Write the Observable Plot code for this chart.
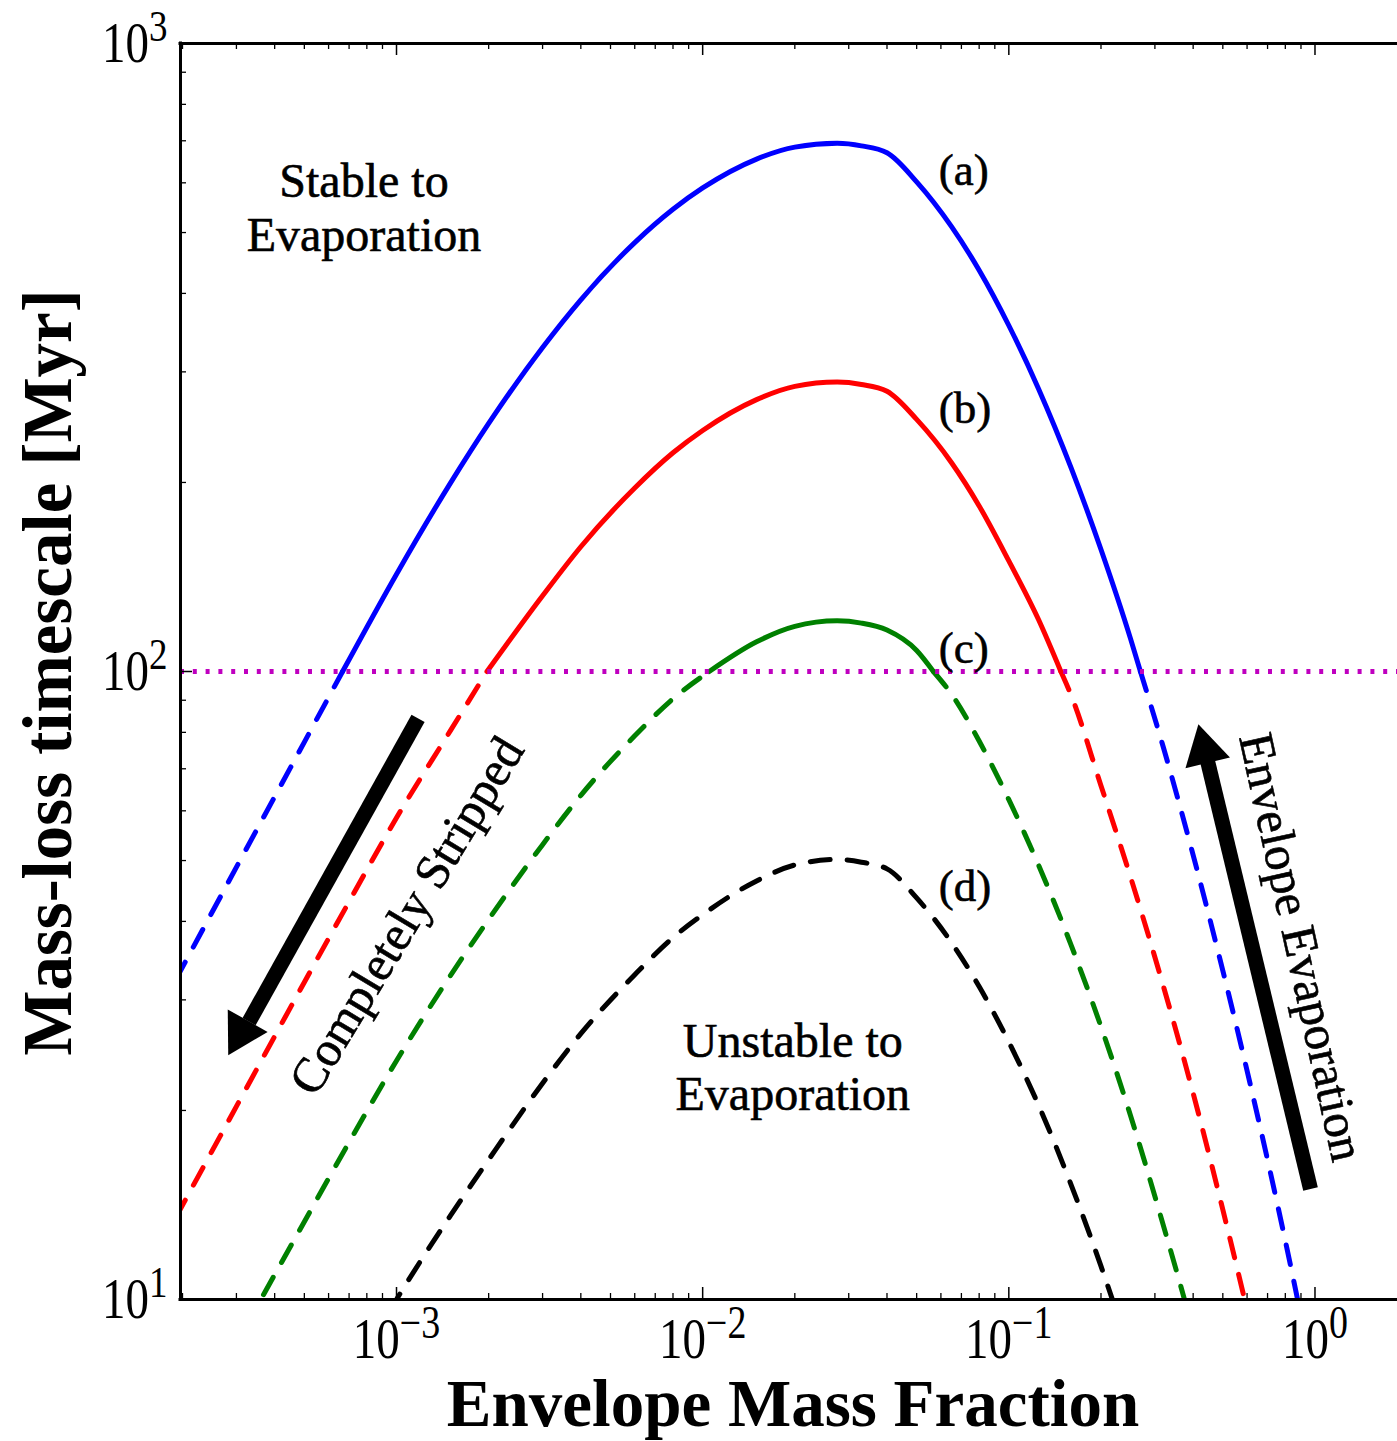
<!DOCTYPE html>
<html>
<head>
<meta charset="utf-8">
<script src="https://cdn.jsdelivr.net/npm/d3@7"></script>
<script src="https://cdn.jsdelivr.net/npm/@observablehq/plot@0.6"></script>
<style>
  html, body { margin: 0; padding: 0; background: #ffffff; overflow: hidden; }
  #chart svg { display: block; }
</style>
</head>
<body>
<div id="chart"></div>
<script>
// ---------------- data ----------------
const envelopeFraction = [1.9e-4, 3e-4, 5e-4, 7e-4, 1e-3, 1.5e-3, 2e-3, 3e-3, 4e-3, 6e-3, 8e-3, 0.01, 0.015, 0.02, 0.0275, 0.033, 0.04, 0.05, 0.065, 0.08, 0.1, 0.125, 0.16, 0.2, 0.25, 0.32, 0.4, 0.5, 0.63, 0.8, 1.0, 1.3, 1.9];
const timescaleA = [32.3, 48.8, 77.2, 104.5, 142.9, 199.5, 248.3, 328.1, 390.8, 481.9, 544.5, 588.8, 654.6, 683.9, 693.4, 687.1, 669.9, 602.1, 510.9, 435.5, 355.6, 282.1, 210.6, 156.4, 112.6, 75.6, 51.0, 33.4, 20.9, 12.4, 7.3, 3.8, 1.4];
const timescaleB = [13.5, 20.3, 32.0, 43.0, 58.5, 80.5, 101.0, 132.0, 158.0, 196.0, 223.0, 242.0, 271.0, 284.5, 289.0, 286.5, 279.4, 252.0, 215.0, 183.5, 150.0, 121.0, 91.5, 65.8, 47.0, 31.5, 21.3, 13.9, 8.7, 5.2, 3.1, 1.6, 0.58];
const timescaleC = [5.6, 8.5, 13.3, 17.8, 24.0, 32.8, 40.3, 53.0, 63.5, 79.0, 90.5, 98.5, 111.5, 118.0, 120.4, 119.4, 116.4, 108.0, 92.0, 77.5, 62.5, 49.2, 36.6, 27.2, 19.6, 13.1, 8.9, 5.8, 3.6, 2.2, 1.28, 0.67, 0.24];
const timescaleD = [2.3, 3.5, 5.5, 7.4, 10.0, 13.6, 16.7, 22.1, 26.5, 32.9, 37.7, 41.0, 46.4, 49.2, 50.2, 49.7, 48.5, 43.6, 37.0, 31.5, 25.7, 20.4, 15.2, 11.3, 8.15, 5.5, 3.7, 2.4, 1.5, 0.9, 0.53, 0.28, 0.1];

const curveNames  = ["a", "b", "c", "d"];
const curveColors = ["#0000ff", "#ff0000", "#008000", "#000000"];
const curveSeries = [timescaleA, timescaleB, timescaleC, timescaleD];
const stabilityThreshold = 100;

const curveLabels  = ["(a)", "(b)", "(c)", "(d)"];
const curveLabelX  = [0.059, 0.059, 0.059, 0.059];
const curveLabelY  = [628, 262, 108.8, 45.5];

const regionText = ["Stable to\nEvaporation", "Unstable to\nEvaporation"];
const regionX    = [7.83e-4, 0.0197];
const regionY    = [468, 20.0];

const arrowText      = ["Completely Stripped", "Envelope Evaporation"];
const arrowTextX     = [1.082e-3, 0.901];
const arrowTextY     = [40.8, 36.4];
const arrowTextAngle = [-58.9, 77.6];

const arrowTailX  = [1.176e-3, 0.967];
const arrowTailY  = [84.2, 15.0];
const arrowBaseX  = [3.30e-4, 0.446];
const arrowBaseY  = [27.7, 71.9];
const arrowHeadX  = [3.11e-4, 0.436];
const arrowHeadY  = [26.65, 75.0];
const arrowHeadAngle = [209.4, 346.4];

const xDomain = [1.97e-4, 1.86];
const yDomain = [10, 1000];
const xMajor = [1e-3, 1e-2, 1e-1, 1];
const xTickLabels = ["10^\u22123", "10^\u22122", "10^\u22121", "10^0"];
const xMinor = [2e-4, 3e-4, 4e-4, 5e-4, 6e-4, 7e-4, 8e-4, 9e-4,
                2e-3, 3e-3, 4e-3, 5e-3, 6e-3, 7e-3, 8e-3, 9e-3,
                2e-2, 3e-2, 4e-2, 5e-2, 6e-2, 7e-2, 8e-2, 9e-2,
                0.2, 0.3, 0.4, 0.5, 0.6, 0.7, 0.8, 0.9];
const yMajor = [10, 100, 1000];
const yTickLabels = ["10^1", "10^2", "10^3"];
const yMinor = [20, 30, 40, 50, 60, 70, 80, 90, 200, 300, 400, 500, 600, 700, 800, 900];

const xTitle = "Envelope Mass Fraction";
const yTitle = "Mass-loss timescale [Myr]";

// ---------------- split each curve into stable (solid) / unstable (dashed) parts ----------------
function splitCurve(name, color, ys) {
  const T = stabilityThreshold;
  const pts = envelopeFraction.map((x, i) => ({x, y: ys[i]}));
  const kind = (p) => (p.y >= T ? "solid" : "dashed");
  const segs = [];
  let cur = [pts[0]];
  let curKind = kind(pts[0]);
  let skip = false;
  for (let i = 1; i < pts.length; i++) {
    const q = pts[i - 1], p = pts[i];
    skip = false;
    if (kind(p) !== curKind) {
      const t = (Math.log(T) - Math.log(q.y)) / (Math.log(p.y) - Math.log(q.y));
      const c = {x: Math.exp(Math.log(q.x) + t * (Math.log(p.x) - Math.log(q.x))), y: T};
      // avoid near-duplicate points next to the crossing (keeps the curve smooth)
      if (t < 0.15 && cur.length > 2) cur.pop();
      cur.push(c);
      segs.push({kind: curKind, pts: cur});
      cur = [c];
      curKind = kind(p);
      if (t > 0.85 && i < pts.length - 1) skip = true;
    }
    if (!skip) cur.push(p);
  }
  segs.push({kind: curKind, pts: cur});
  return segs.flatMap((s, j) => s.pts.map((d) => ({...d, z: name + j, color, kind: s.kind})));
}
const allRows = curveNames.flatMap((n, i) => splitCurve(n, curveColors[i], curveSeries[i]));
const solidRows = allRows.filter((d) => d.kind === "solid");
const dashedRows = allRows.filter((d) => d.kind === "dashed");

// ---------------- layout ----------------
const W = 1397, H = 1441;
const mT = 43, mB = 142, mL = 180, mR = 0;
const FH = H - mT - mB, FW = W - mL - mR;
const FONT = "'Liberation Serif', 'Times New Roman', serif";
const idx2 = [0, 1];

const chart = Plot.plot({
  width: W, height: H,
  marginTop: mT, marginBottom: mB, marginLeft: mL, marginRight: mR,
  style: {fontFamily: FONT, background: "#ffffff", color: "#000000"},
  x: {type: "log", domain: xDomain},
  y: {type: "log", domain: yDomain},
  color: {type: "identity"},
  marks: [
    Plot.line(dashedRows, {x: "x", y: "y", z: "z", stroke: "color", strokeWidth: 5, strokeDasharray: "20,17", curve: "monotone-x", clip: true}),
    Plot.line(solidRows, {x: "x", y: "y", z: "z", stroke: "color", strokeWidth: 5, curve: "monotone-x", clip: true}),
    Plot.ruleY([stabilityThreshold], {stroke: "#bf00bf", strokeWidth: 5, strokeDasharray: "4,8.8"}),

    // arrows
    Plot.link(idx2, {x1: (i) => arrowTailX[i], y1: (i) => arrowTailY[i], x2: (i) => arrowBaseX[i], y2: (i) => arrowBaseY[i], stroke: "#000", strokeWidth: 15}),
    Plot.dot(idx2, {x: (i) => arrowHeadX[i], y: (i) => arrowHeadY[i], symbol: "triangle", r: 17, fill: "#000", rotate: (i) => arrowHeadAngle[i]}),

    // annotations
    Plot.text(curveLabels, {x: (d, i) => curveLabelX[i], y: (d, i) => curveLabelY[i], text: (d) => d, textAnchor: "start", fontSize: 45, fill: "#000", stroke: "#000", strokeWidth: 0.6}),
    Plot.text(regionText, {x: (d, i) => regionX[i], y: (d, i) => regionY[i], text: (d) => d, lineAnchor: "bottom", lineHeight: 1.11, fontSize: 48, fill: "#000", stroke: "#000", strokeWidth: 0.6}),
    Plot.text(arrowText, {x: (d, i) => arrowTextX[i], y: (d, i) => arrowTextY[i], text: (d) => d, rotate: (d, i) => arrowTextAngle[i], fontSize: 49, fill: "#000", stroke: "#000", strokeWidth: 0.6}),

    // axis ticks (inward), bottom / top / left
    Plot.tickX(xMajor, {insetTop: FH - 12, strokeWidth: 1.5}),
    Plot.tickX(xMinor, {insetTop: FH - 6, strokeWidth: 1.3}),
    Plot.tickX(xMajor, {insetBottom: FH - 12, strokeWidth: 1.5}),
    Plot.tickX(xMinor, {insetBottom: FH - 6, strokeWidth: 1.3}),
    Plot.tickY(yMajor, {insetRight: FW - 12, strokeWidth: 1.5}),
    Plot.tickY(yMinor, {insetRight: FW - 6, strokeWidth: 1.3}),

    // tick labels through Plot's axes
    Plot.axisX(xMajor, {anchor: "bottom", tickSize: 0, tickPadding: 58, lineAnchor: "bottom", fontSize: 47, fontFamily: FONT, label: null,
      tickFormat: (d) => xTickLabels[xMajor.indexOf(d)]}),
    Plot.axisY(yMajor, {anchor: "left", tickSize: 0, tickPadding: 13, lineAnchor: "bottom", dy: 18, fontSize: 47, fontFamily: FONT, label: null,
      tickFormat: (d) => yTickLabels[yMajor.indexOf(d)]}),

    // axis titles
    Plot.text([xTitle], {frameAnchor: "bottom", textAnchor: "middle", lineAnchor: "bottom", dy: 126, dx: 4, fontSize: 67, fontWeight: "bold", fill: "#000"}),
    Plot.text([yTitle], {frameAnchor: "left", textAnchor: "middle", rotate: -90, lineAnchor: "bottom", dx: -110, dy: 1, fontSize: 69, fontWeight: "bold", fill: "#000"}),

    // frame (left, bottom, top)
    Plot.ruleY(yDomain, {strokeWidth: 3, strokeLinecap: "square"}),
    Plot.ruleX([xDomain[0]], {strokeWidth: 3, strokeLinecap: "square"})
  ]
});
document.getElementById("chart").append(chart);

// ---------------- superscript exponents on tick labels ----------------
const SVGNS = "http://www.w3.org/2000/svg";
function superscripts(label, expSize, raise, stretch) {
  chart.querySelectorAll(`g[aria-label="${label}"] text`).forEach((el) => {
    const parts = el.textContent.split("^");
    if (parts.length < 2) return;
    el.textContent = parts[0];
    const ts = document.createElementNS(SVGNS, "tspan");
    ts.setAttribute("font-size", expSize);
    ts.setAttribute("dy", (-raise / stretch).toFixed(2));
    ts.textContent = parts[1];
    el.appendChild(ts);
    const tr = el.getAttribute("transform") || "";
    const ax = el.getAttribute("x"), ay = el.getAttribute("y");
    let tx = 0, ty = 0;
    if (ax !== null && isFinite(+ax)) { tx = +ax; el.removeAttribute("x"); }
    if (ay !== null && isFinite(+ay)) { ty = +ay; el.removeAttribute("y"); }
    el.setAttribute("transform", `${tr} translate(${tx},${ty}) scale(1,${stretch})`.trim());
  });
}
superscripts("x-axis tick label", 38, 20, 1.2);
superscripts("y-axis tick label", 37, 21, 1.2);
</script>
</body>
</html>
